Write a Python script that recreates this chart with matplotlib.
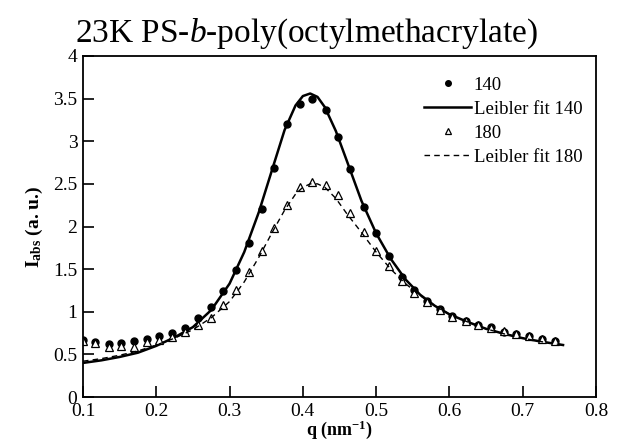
import matplotlib
matplotlib.use("Agg")
import matplotlib.pyplot as plt

plt.rcParams["font.family"] = ["Liberation Serif", "DejaVu Serif"]
plt.rcParams["mathtext.fontset"] = "custom"
plt.rcParams["mathtext.rm"] = "Liberation Serif"
plt.rcParams["mathtext.it"] = "Liberation Serif:italic"
plt.rcParams["mathtext.bf"] = "Liberation Serif:bold"

# Scattering vector (nm^-1) of the measured points
q_data = [0.100, 0.117, 0.135, 0.152, 0.170, 0.187, 0.204, 0.222, 0.239, 0.257,
          0.274, 0.291, 0.309, 0.326, 0.344, 0.361, 0.378, 0.396, 0.413, 0.431,
          0.448, 0.465, 0.483, 0.500, 0.518, 0.535, 0.552, 0.570, 0.587, 0.604,
          0.622, 0.639, 0.657, 0.674, 0.691, 0.709, 0.726, 0.744]

# Absolute intensity at 140 C
i_140 = [0.67, 0.64, 0.62, 0.63, 0.66, 0.68, 0.71, 0.75, 0.81, 0.93,
         1.06, 1.24, 1.49, 1.81, 2.20, 2.69, 3.20, 3.44, 3.50, 3.37,
         3.05, 2.67, 2.23, 1.92, 1.65, 1.41, 1.26, 1.13, 1.03, 0.95,
         0.89, 0.85, 0.82, 0.76, 0.74, 0.71, 0.68, 0.66]

# Absolute intensity at 180 C
i_180 = [0.66, 0.63, 0.59, 0.60, 0.59, 0.64, 0.67, 0.70, 0.76, 0.84,
         0.93, 1.08, 1.25, 1.47, 1.71, 1.98, 2.25, 2.46, 2.52, 2.49,
         2.37, 2.16, 1.94, 1.71, 1.54, 1.36, 1.22, 1.11, 1.02, 0.94,
         0.89, 0.85, 0.81, 0.77, 0.74, 0.71, 0.68, 0.66]

# Leibler mean-field fits
q_fit = [0.100, 0.125, 0.150, 0.175, 0.200, 0.225, 0.250, 0.275, 0.300, 0.320,
         0.340, 0.360, 0.375, 0.390, 0.400, 0.410, 0.420, 0.430, 0.445, 0.460,
         0.480, 0.500, 0.520, 0.540, 0.560, 0.580, 0.600, 0.625, 0.650, 0.675,
         0.700, 0.725, 0.755]
fit_140 = [0.40, 0.43, 0.47, 0.52, 0.60, 0.70, 0.82, 1.02, 1.33, 1.70,
           2.17, 2.72, 3.13, 3.42, 3.53, 3.56, 3.52, 3.40, 3.12, 2.77,
           2.30, 1.92, 1.62, 1.38, 1.20, 1.07, 0.97, 0.88, 0.80, 0.74,
           0.69, 0.65, 0.61]
fit_180 = [0.42, 0.45, 0.49, 0.54, 0.61, 0.69, 0.79, 0.93, 1.12, 1.35,
           1.64, 1.96, 2.19, 2.38, 2.46, 2.50, 2.50, 2.46, 2.33, 2.15,
           1.93, 1.70, 1.50, 1.33, 1.19, 1.07, 0.97, 0.88, 0.80, 0.74,
           0.69, 0.65, 0.61]

x_ticks = [0.1, 0.2, 0.3, 0.4, 0.5, 0.6, 0.7, 0.8]
x_tick_labels = ["0.1", "0.2", "0.3", "0.4", "0.5", "0.6", "0.7", "0.8"]
y_ticks = [0, 0.5, 1, 1.5, 2, 2.5, 3, 3.5, 4]
y_tick_labels = ["0", "0.5", "1", "1.5", "2", "2.5", "3", "3.5", "4"]

fig = plt.figure(figsize=(6.23, 4.43), dpi=100)
ax = fig.add_axes([0.1332, 0.1038, 0.8235, 0.7698])

ax.plot(q_data, i_140, linestyle="none", marker="o", markersize=5,
        color="black", label="140")
ax.plot(q_fit, fit_140, linestyle="-", linewidth=1.8, color="black",
        label="Leibler fit 140")
ax.plot(q_data, i_180, linestyle="none", marker="^", markersize=5.5,
        markerfacecolor="white", markeredgecolor="black", markeredgewidth=0.9,
        label="180")
ax.plot(q_fit, fit_180, linestyle=(0, (4, 3)), linewidth=1.0, color="black",
        label="Leibler fit 180")

ax.set_xlim(0.1, 0.8)
ax.set_ylim(0, 4)
ax.set_xticks(x_ticks)
ax.set_xticklabels(x_tick_labels)
ax.set_yticks(y_ticks)
ax.set_yticklabels(y_tick_labels)
ax.tick_params(direction="in", length=8, width=1.2, labelsize=14,
               top=False, right=False, pad=4)
for s in ax.spines.values():
    s.set_linewidth(1.3)

ax.set_xlabel(r"q (nm$^{\mathbf{-1}}$)", fontsize=13, fontweight="bold",
              labelpad=-1)
ax.set_ylabel(r"$\mathbf{I}_{\mathbf{abs}}$ (a. u.)", fontsize=14,
              fontweight="bold", labelpad=6)

ax.legend(loc="upper left", bbox_to_anchor=(0.665, 0.94), frameon=False,
          fontsize=13.5, handlelength=2.5, handletextpad=0.15,
          labelspacing=0.37, borderpad=0, borderaxespad=0, markerscale=0.8)

fig.text(0.12, 0.905, r"23K PS-$\it{b}$-poly(octylmethacrylate)",
         fontsize=24, ha="left", va="baseline")

fig.savefig("out.png", dpi=100, facecolor="white")
